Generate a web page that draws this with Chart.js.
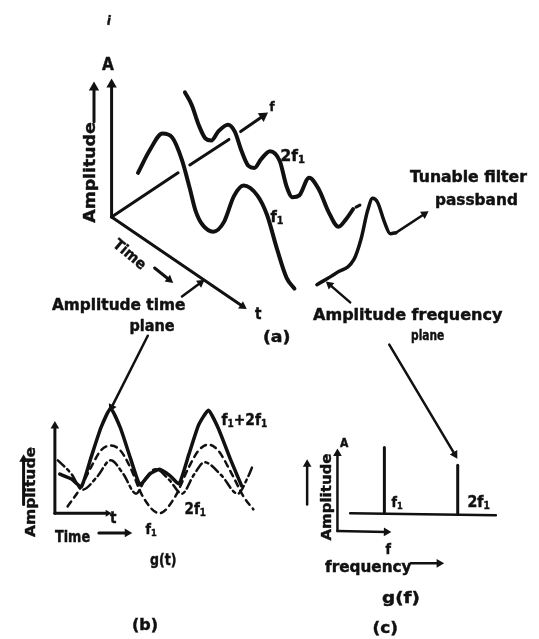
<!DOCTYPE html>
<html><head><meta charset="utf-8">
<script src="https://cdn.jsdelivr.net/npm/chart.js@4/dist/chart.umd.min.js"></script>
<style>
html,body{margin:0;padding:0;background:#fff;}
#wrap{position:relative;width:539px;height:639px;overflow:hidden;background:#fff;}
canvas{position:absolute;left:0;top:0;}
.t{position:absolute;left:0;top:0;font-family:"DejaVu Sans Condensed","Liberation Sans Narrow","Liberation Sans","DejaVu Sans",Arial,sans-serif;font-weight:bold;color:#111;white-space:nowrap;line-height:1;-webkit-text-stroke:0.4px #111;}
</style></head><body>
<div id="wrap"><canvas id="c" width="539" height="639"></canvas></div>
<script>
// ---------- DATA (in figure units) ----------
// (a) 3-D sketch
const ampAxis3d   = [{x:108,y:215},{x:108,y:80}];
const timeAxis3d  = [{x:108,y:215},{x:242,y:306}];
const freqAxis3dA = [{x:108,y:215},{x:176,y:170}];
const freqAxis3dB = [{x:188,y:162},{x:228,y:136}];
const freqAxis3dC = [{x:240,y:128},{x:263,y:112}];
const waveF1 = [{x:135,y:170},{x:147,y:147},{x:160,y:130},{x:170,y:134},{x:180,y:157},{x:188,y:186},{x:194,y:209},{x:201,y:223},{x:212,y:230},{x:223,y:220},{x:233,y:194},{x:243,y:183},{x:257,y:193},{x:267,y:213},{x:277,y:247},{x:287,y:277},{x:295,y:288}];
const wave2F1 = [{x:183,y:88},{x:190,y:101},{x:197,y:121},{x:204,y:135},{x:210,y:137},{x:217,y:128},{x:227,y:121},{x:234,y:128},{x:241,y:148},{x:248,y:163},{x:254,y:165},{x:261,y:156},{x:270,y:148},{x:280,y:158},{x:287,y:184},{x:293,y:195},{x:300,y:193},{x:310,y:175},{x:320,y:187},{x:330,y:210},{x:340,y:225},{x:348,y:217},{x:355,y:207}];
const wave2F1Tick = [{x:358,y:205},{x:362,y:203}];
const passband = [{x:318,y:284},{x:338,y:272},{x:356,y:258},{x:363,y:238},{x:370,y:208},{x:375,y:196},{x:380,y:200},{x:387,y:220},{x:393,y:232},{x:399,y:231}];
const filterArrow   = [{x:399,y:231},{x:428,y:212}];
const timePlaneArrow = [{x:180,y:296},{x:199,y:282}];
const timeWordArrow  = [{x:152,y:267},{x:167,y:279}];
const ampWordArrowA  = [{x:90,y:118},{x:90,y:83}];
const toTimeDomain   = [{x:145,y:336},{x:108,y:409}];
const freqPlaneArrow = [{x:352,y:302},{x:331,y:284}];
const toFreqDomain   = [{x:392,y:345},{x:459,y:457}];
// (b) time domain g(t)
const axisB_v = [{x:50,y:517},{x:50,y:428}];
const axisB_h = [{x:50,y:517},{x:104,y:517}];
const ampWordArrowB = [{x:18,y:508},{x:18,y:462}];
const timeWordArrowB = [{x:95,y:537},{x:124,y:537}];
const sumF1_2F1 = [{x:55,y:477},{x:67,y:482},{x:77,y:490},{x:87,y:460},{x:97,y:430},{x:107,y:410},{x:117,y:430},{x:127,y:460},{x:137,y:488},{x:147,y:477},{x:157,y:472},{x:167,y:478},{x:177,y:487},{x:187,y:457},{x:197,y:427},{x:207,y:412},{x:217,y:430},{x:230,y:463},{x:241,y:489}];
const comp2F1 = [{x:53,y:463},{x:67,y:477},{x:78,y:493},{x:93,y:480},{x:107,y:463},{x:120,y:477},{x:133,y:497},{x:143,y:481},{x:153,y:472},{x:167,y:483},{x:180,y:497},{x:192,y:478},{x:203,y:465},{x:220,y:478},{x:237,y:497},{x:247,y:481},{x:253,y:467}];
const compF1 = [{x:63,y:510},{x:75,y:493},{x:87,y:470},{x:97,y:453},{x:107,y:448},{x:117,y:453},{x:127,y:470},{x:140,y:500},{x:157,y:517},{x:173,y:500},{x:187,y:470},{x:197,y:453},{x:207,y:447},{x:217,y:453},{x:230,y:475},{x:243,y:500},{x:253,y:513}];
// (c) frequency domain g(f)
const axisC_v = [{x:339,y:535},{x:339,y:456}];
const axisC_h = [{x:339,y:535},{x:389,y:536}];
const ampWordArrowC = [{x:308,y:508},{x:308,y:467}];
const freqWordArrowC = [{x:414,y:568},{x:443,y:568}];
const spectrumBase = [{x:352,y:517},{x:501,y:519}];
const barF1  = [{x:387,y:517},{x:387,y:450}];
const bar2F1 = [{x:462,y:518},{x:462,y:468}];

// ---------- datasets ----------
const INK = '#111';
function seg(data, w, opt) {
  opt = opt || {};
  const n = data.length;
  let rot = 0;
  if (opt.arrow) {
    const a = data[n-2], b = data[n-1];
    rot = Math.atan2(b.x - a.x, -(b.y - a.y)) * 180 / Math.PI;
  }
  return {
    data: data, showLine: true, borderColor: INK, backgroundColor: INK,
    borderWidth: w, tension: opt.tension || 0,
    cubicInterpolationMode: opt.mono ? 'monotone' : 'default',
    borderDash: opt.dash || [], borderCapStyle: 'round', borderJoinStyle: 'round',
    pointStyle: 'triangle', pointRotation: rot, pointBorderWidth: 0,
    pointBackgroundColor: INK,
    pointRadius: ctx => (opt.arrow && ctx.dataIndex === n-1) ? (opt.head || 5) : 0,
    pointHoverRadius: 0
  };
}
const datasets = [
  seg(ampAxis3d, 3, {arrow:true, head:6}),
  seg(timeAxis3d, 3, {arrow:true, head:5}),
  seg(freqAxis3dA, 3), seg(freqAxis3dB, 3), seg(freqAxis3dC, 3, {arrow:true, head:6}),
  seg(waveF1, 4, {mono:true}),
  seg(wave2F1, 4, {mono:true}),
  seg(wave2F1Tick, 3),
  seg(passband, 3.5, {mono:true}),
  seg(filterArrow, 2.5, {arrow:true, head:5}),
  seg(timePlaneArrow, 2.5, {arrow:true, head:5}),
  seg(timeWordArrow, 3, {arrow:true, head:5}),
  seg(ampWordArrowA, 3, {arrow:true, head:6}),
  seg(toTimeDomain, 2.5, {arrow:true, head:5}),
  seg(freqPlaneArrow, 2.5, {arrow:true, head:5}),
  seg(toFreqDomain, 2.5, {arrow:true, head:5}),
  seg(axisB_v, 3, {arrow:true, head:5}),
  seg(axisB_h, 3, {arrow:true, head:4}),
  seg(ampWordArrowB, 3, {arrow:true, head:5}),
  seg(timeWordArrowB, 3, {arrow:true, head:5}),
  seg(sumF1_2F1, 3.5, {tension:0.15}),
  seg(comp2F1, 2.5, {mono:true, dash:[9,4,3,4]}),
  seg(compF1, 2.5, {mono:true, dash:[6,5]}),
  seg(axisC_v, 2.5, {arrow:true, head:5}),
  seg(axisC_h, 2.5, {arrow:true, head:5}),
  seg(ampWordArrowC, 2.5, {arrow:true, head:5}),
  seg(freqWordArrowC, 2.5, {arrow:true, head:5}),
  seg(spectrumBase, 2.5),
  seg(barF1, 3), seg(bar2F1, 3)
];

new Chart(document.getElementById('c'), {
  type: 'scatter',
  data: { datasets: datasets },
  options: {
    responsive: false, animation: false, devicePixelRatio: 1,
    layout: { padding: 0 },
    plugins: { legend: { display: false }, tooltip: { enabled: false } },
    scales: {
      x: { type: 'linear', min: 0, max: 539, display: false },
      y: { type: 'linear', min: 0, max: 639, reverse: true, display: false }
    }
  }
});

// ---------- text labels ----------
const wrap = document.getElementById('wrap');
function label(txt, cx, cy, size, width, rot) {
  const d = document.createElement('div');
  d.className = 't';
  d.innerHTML = txt;
  d.style.fontSize = size + 'px';
  wrap.appendChild(d);
  const w = d.offsetWidth, h = d.offsetHeight;
  const sx = width ? width / w : 1;
  d.style.left = (cx - w / 2) + 'px';
  d.style.top = (cy - h / 2) + 'px';
  d.style.transform = 'rotate(' + (rot || 0) + 'deg) scaleX(' + sx + ')';
}
const sub1 = '<span style="font-size:0.65em;vertical-align:-0.25em">1</span>';
label('i', 109, 20, 13, 0, 10);
label('A', 108, 64, 17);
label('Amplitude', 90, 172, 15, 100, -90);
label('f', 272, 106, 13);
label('2f' + sub1, 292, 157, 15, 24);
label('f' + sub1, 277, 218, 15, 13);
label('Time', 129, 254, 15, 38, 40);
label('Amplitude time', 118, 305, 15, 133);
label('plane', 152, 326, 15, 45);
label('t', 258, 314, 15);
label('(a)', 276, 337, 15, 27);
label('Amplitude frequency', 408, 315, 15, 190);
label('plane', 427, 335, 14, 33);
label('Tunable filter', 468, 177, 15, 117);
label('passband', 476, 200, 15, 83);
// (b)
label('f' + sub1 + '+2f' + sub1, 244, 421, 15, 46);
label('Amplitude', 29, 492, 14, 90, -90);
label('t', 113, 518, 15);
label('Time', 72, 537, 15, 35);
label('f' + sub1, 151, 530, 14, 11);
label('2f' + sub1, 195, 510, 15, 21);
label('g(t)', 163, 560, 15, 26);
label('(b)', 145, 625, 15, 26);
// (c)
label('A', 344, 443, 12);
label('Amplitude', 325, 497, 14, 87, -90);
label('f', 388, 549, 14);
label('frequency', 368, 567, 15, 87);
label('f' + sub1, 397, 503, 14, 11);
label('2f' + sub1, 478, 503, 15, 22);
label('g(f)', 401, 598, 15, 38);
label('(c)', 385, 628, 15, 25);
</script>
</body></html>
